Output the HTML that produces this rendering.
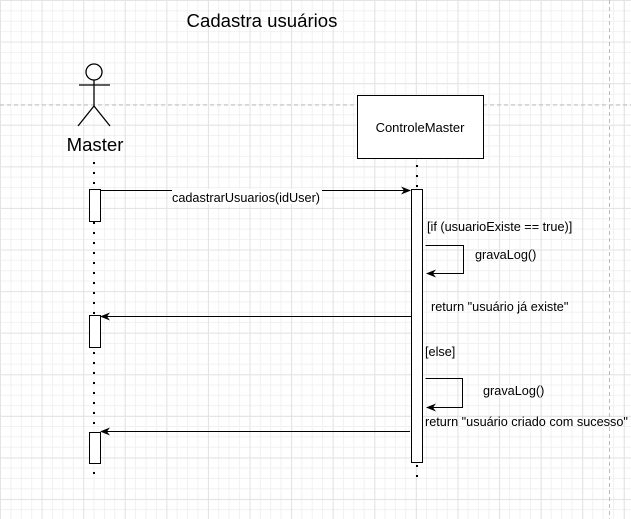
<!DOCTYPE html>
<html><head><style>
body{margin:0;width:631px;height:519px;overflow:hidden;background:#fff;
background-image:linear-gradient(#e4e4e4 1px,transparent 1px),linear-gradient(90deg,#e4e4e4 1px,transparent 1px),linear-gradient(#f1f1f1 1px,transparent 1px),linear-gradient(90deg,#f1f1f1 1px,transparent 1px);
background-size:41.6px 41.6px,41.6px 41.6px,10.4px 10.4px,10.4px 10.4px;background-position:0 0;
font-family:"Liberation Sans",Arial,sans-serif;}
svg{position:absolute;left:0;top:0}
</style></head><body>
<svg width="631" height="519" xmlns="http://www.w3.org/2000/svg" font-family="Liberation Sans, Arial, sans-serif">
<defs><marker id="a" markerWidth="10" markerHeight="8" refX="9" refY="4" orient="auto" markerUnits="userSpaceOnUse"><path d="M0,0 L10,4 L0,8 L3,4 Z" fill="#000"/></marker></defs>
<line x1="0" y1="105" x2="631" y2="105" stroke="#bbb" stroke-dasharray="4 3"/>
<line x1="609.5" y1="0" x2="609.5" y2="519" stroke="#bbb" stroke-dasharray="4 3"/>
<text x="262" y="27" font-size="18.6" text-anchor="middle">Cadastra usuários</text>
<g stroke="#000" stroke-width="1.3" fill="none">
<circle cx="94" cy="72" r="8" fill="#fff"/>
<line x1="79" y1="85" x2="110" y2="85"/>
<line x1="94" y1="80" x2="94" y2="106"/>
<line x1="94" y1="106" x2="78" y2="126"/>
<line x1="94" y1="106" x2="110" y2="126"/>
</g>
<text x="95" y="151" font-size="18.6" text-anchor="middle">Master</text>
<line x1="94" y1="162" x2="94" y2="478" stroke="#000" stroke-width="2" stroke-dasharray="2 8"/>
<rect x="357.5" y="95.5" width="126" height="63" fill="#fff" stroke="#000"/>
<text x="420" y="132" font-size="13" text-anchor="middle">ControleMaster</text>
<line x1="417" y1="165" x2="417" y2="480" stroke="#000" stroke-width="2" stroke-dasharray="2 8"/>
<rect x="89.5" y="189.5" width="11" height="32" fill="#fff" stroke="#000"/>
<rect x="89.5" y="315.5" width="11" height="32" fill="#fff" stroke="#000"/>
<rect x="89.5" y="432.5" width="11" height="31" fill="#fff" stroke="#000"/>
<rect x="411.5" y="189.5" width="11" height="273" fill="#fff" stroke="#000"/>
<line x1="100" y1="190.5" x2="410" y2="190.5" stroke="#000" marker-end="url(#a)"/>
<rect x="172" y="189" width="150" height="15" fill="#fff"/>
<text x="246" y="202" font-size="12.7" text-anchor="middle">cadastrarUsuarios(idUser)</text>
<text x="427" y="231" font-size="12.7">[if (usuarioExiste == true)]</text>
<path d="M425.5,245.5 H463.5 V273.5 H427" fill="none" stroke="#000" marker-end="url(#a)"/>
<text x="475" y="259" font-size="12.7">gravaLog()</text>
<text x="431" y="311" font-size="12.7">return "usuário já existe"</text>
<line x1="411" y1="316.5" x2="101" y2="316.5" stroke="#000" marker-end="url(#a)"/>
<text x="425" y="356" font-size="12.7">[else]</text>
<path d="M425.5,378.5 H462.5 V407.5 H427" fill="none" stroke="#000" marker-end="url(#a)"/>
<text x="483" y="395" font-size="12.7">gravaLog()</text>
<text x="425" y="426" font-size="12.7">return "usuário criado com sucesso"</text>
<line x1="410" y1="431.5" x2="101" y2="431.5" stroke="#000" marker-end="url(#a)"/>
</svg>
</body></html>
